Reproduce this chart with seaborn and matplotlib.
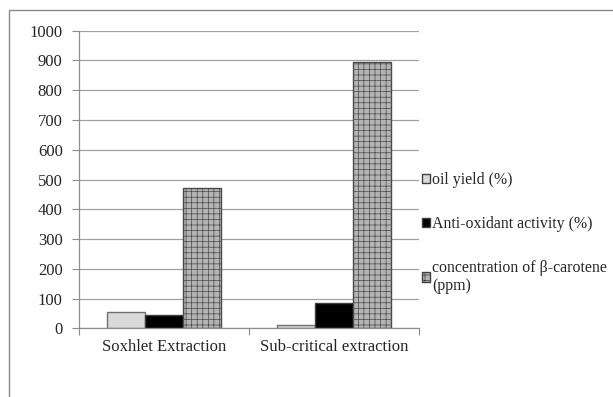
import matplotlib
matplotlib.use("Agg")
import matplotlib.pyplot as plt
from matplotlib.patches import Rectangle
import pandas as pd
import seaborn as sns

# Extraction methods and measured quantities
methods = ["Soxhlet Extraction", "Sub-critical extraction"]
series = ["oil yield (%)", "Anti-oxidant activity (%)",
          "concentration of \u03b2-carotene\n(ppm)"]
oil_yield = [55, 10]
antioxidant = [45, 84]
beta_carotene = [470, 896]
y_ticks = [0, 100, 200, 300, 400, 500, 600, 700, 800, 900, 1000]

rows = []
for name, vals in zip(series, [oil_yield, antioxidant, beta_carotene]):
    for m, v in zip(methods, vals):
        rows.append({"method": m, "series": name, "value": v})
df = pd.DataFrame(rows)

sns.set_style("white")
plt.rcParams["font.family"] = ["Liberation Serif", "DejaVu Serif"]
plt.rcParams["hatch.linewidth"] = 0.5

FS = 12
LEG_FS = 11.4
TXT = "#262626"

fig = plt.figure(figsize=(6.13, 3.97), dpi=100)
ax = fig.add_axes([0.1295, 0.173, 0.5548, 0.7497])

palette = ["#d9d9d9", "#000000", "#b4b4b4"]
sns.barplot(data=df, x="method", y="value", hue="series", order=methods,
            hue_order=series, palette=palette, width=0.67, gap=0,
            edgecolor="#404040", linewidth=1.0, ax=ax, legend=True)

# Woven texture on the beta-carotene bars
for bar in ax.containers[0]:
    bar.set_edgecolor("#707070")
for bar in ax.containers[2]:
    bar.set_hatch("+++")
    bar.set_edgecolor("#4a4a4a")

ax.set_ylim(0, 1000)
ax.set_xlim(-0.5, 1.5)
ax.set_yticks(y_ticks)
ax.set_yticklabels([str(t) for t in y_ticks], fontsize=FS, color=TXT)
ax.set_xticks([0, 1])
ax.set_xticklabels(methods, fontsize=FS, color=TXT)
ax.tick_params(axis="x", length=0, pad=8)
ax.tick_params(axis="y", length=5, width=0.8, color="#8c8c8c", pad=7,
               direction="out", left=True)
# category boundary ticks on the x axis
ax.set_xticks([-0.5, 0.5, 1.5], minor=True)
ax.tick_params(axis="x", which="minor", length=5, width=0.8,
               color="#8c8c8c", direction="out", bottom=True)

ax.set_xlabel("")
ax.set_ylabel("")
ax.yaxis.grid(True, color="#a0a0a0", linewidth=0.9)
ax.set_axisbelow(True)
for side in ["top", "right"]:
    ax.spines[side].set_visible(False)
for side in ["left", "bottom"]:
    ax.spines[side].set_color("#8c8c8c")
    ax.spines[side].set_linewidth(0.9)

handles, labels = ax.get_legend_handles_labels()
ax.get_legend().remove()
leg = ax.legend(handles, labels, loc="upper left",
                bbox_to_anchor=(0.6885, 0.566), bbox_transform=fig.transFigure,
                frameon=False, fontsize=LEG_FS, handlelength=0.5,
                handleheight=0.5, handletextpad=0.15, labelspacing=1.75,
                borderaxespad=0, borderpad=0)
for h in leg.legend_handles:
    h.set_edgecolor("#404040")
leg.legend_handles[2].set_hatch("+++")
for t in leg.get_texts():
    t.set_color(TXT)
    t.set_linespacing(1.15)

# outer frame of the chart area
fig.patches.append(Rectangle((0.0147, -0.05), 1.2, 0.025 + 1.0,
                             transform=fig.transFigure, fill=False,
                             edgecolor="#8a8a8a", linewidth=1.0))

fig.savefig("out.png", dpi=100)
